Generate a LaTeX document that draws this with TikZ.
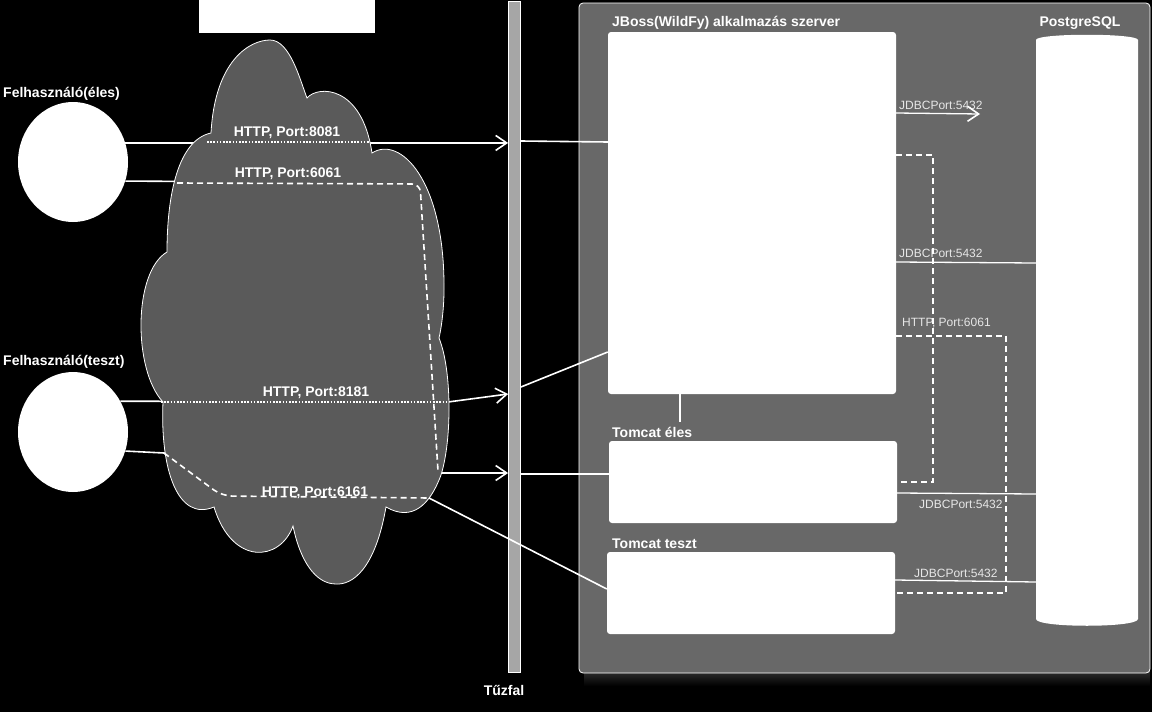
\documentclass[tikz,border=0pt]{standalone}
\usepackage{fontspec}
\setmainfont{Liberation Sans}
\usepackage{tikz}
\usetikzlibrary{arrows.meta, calc, positioning, shapes.geometric}
\definecolor{felho}{HTML}{5A5A5A}
\definecolor{szerver}{HTML}{686868}
\definecolor{fal}{HTML}{A6A6A6}
\definecolor{halvany}{HTML}{E6E6E6}

\begin{document}
\begin{tikzpicture}[x=1pt, y=-1pt,
    felirat/.style={text=white, font=\bfseries\fontsize{14}{16}\selectfont, inner sep=0pt},
    port/.style={text=halvany, font=\fontsize{12}{14}\selectfont, inner sep=0pt},
    doboz/.style={fill=white, rounded corners=3pt, inner sep=0pt},
    felhasznalo/.style={ellipse, fill=white, minimum width=110pt, minimum height=120pt, inner sep=0pt},
    vonal/.style={draw=white, line width=1.6pt},
    vekony/.style={draw=white, line width=1.3pt},
    szaggatott/.style={draw=white, line width=1.6pt, dash pattern=on 6pt off 4pt},
    pontozott/.style={draw=white, line width=1.6pt, dash pattern=on 1.6pt off 1.6pt},
    nyil/.style={-{Straight Barb[length=11pt, width=15pt, line width=1.6pt]}}
  ]
      % Háttér
      \fill[black] (0,0) rectangle (1152,712);
      \useasboundingbox (0,0) rectangle (1152,712);

      % Szerver
      \shade[top color=black!82, bottom color=black] (584,671) rectangle (1150,686);
      \node[fill=szerver, draw=white, line width=0.8pt, rounded corners=4pt,
        minimum width=571pt, minimum height=670pt, inner sep=0pt] (szerver) at (864.5,338) {};
      \node[doboz, minimum width=288pt, minimum height=362pt] (jboss) at (752,213) {};
      \node[doboz, minimum width=288pt, minimum height=82pt] (teles) at (753,482) {};
      \node[doboz, minimum width=288pt, minimum height=82pt] (tteszt) at (751,593) {};
      \node[minimum width=102pt, minimum height=584pt, inner sep=0pt] (db) at (1087,329) {};
      \fill[white] (1036,40) .. controls (1036,33) and (1138,33) .. (1138,40)
        -- (1138,619) .. controls (1138,628) and (1036,628) .. (1036,619) -- cycle;

      \node[felirat, anchor=base west] (ljboss) at (612,27) {JBoss(WildFy) alkalmazás szerver};
      \node[felirat, anchor=base] (ldb) at (1080,27) {PostgreSQL};
      \node[felirat, anchor=base west] (lteles) at (612,437) {Tomcat éles};
      \node[felirat, anchor=base west] (ltteszt) at (612,548) {Tomcat teszt};

      % Tűzfal
      \node[fill=fal, draw=white, line width=0.8pt, minimum width=12pt,
        minimum height=671pt, inner sep=0pt] (tuzfal) at (514.5,336.5) {};
      \node[felirat, anchor=base] (ltuzfal) at (504,695) {Tűzfal};

      % Felhasználók
      \node[fill=white, minimum width=176pt, minimum height=33pt, inner sep=0pt] (cim) at (287,16.5) {};
      \node[felhasznalo] (ueles) at (73,162) {};
      \node[felhasznalo] (uteszt) at (73,432) {};
      \node[felirat, anchor=base west] (lueles) at (3,97) {Felhasználó(éles)};
      \node[felirat, anchor=base west] (luteszt) at (3,365) {Felhasználó(teszt)};

      % Kapcsolatok (a felhő alatt)
      \draw[vonal, nyil] (ueles.20) -- (ueles.20 -| tuzfal.west);
      \draw[vonal, nyil] (ueles.-20) -- (420,183) -- (438,473) -- (tuzfal.west |- 0,473);
      \draw[vonal, nyil] (uteszt.33) -- (448,402) -- (tuzfal.west |- 0,394);
      \draw[vonal] (uteszt.-20) -- (164,453) -- (218,493) -- (429,498) -- (tteszt.west |- 0,589);
      \draw[vonal] (tuzfal.east |- 0,141) -- (jboss.west |- 0,142);
      \draw[vonal] (tuzfal.east |- 0,387) -- (jboss.west |- 0,352);
      \draw[vonal] (tuzfal.east |- 0,474) -- (teles.west |- 0,474);

      % Felhő
      \draw[fill=felho, draw=white, line width=0.8pt]
        (167,252) .. controls (167,195) and (178,140) .. (211,133)
        .. controls (215,60) and (250,40) .. (270,40)
        .. controls (290,40) and (300,80) .. (307,98)
        .. controls (318,85) and (362,85) .. (372,153)
        .. controls (400,135) and (445,180) .. (444,290)
        .. controls (444,310) and (441,330) .. (439,338)
        .. controls (452,370) and (452,440) .. (441,475)
        .. controls (430,505) and (412,522) .. (386,507)
        .. controls (375,570) and (352,585) .. (336,584)
        .. controls (315,584) and (300,560) .. (293,526)
        .. controls (280,562) and (232,566) .. (214,507)
        .. controls (178,522) and (160,470) .. (163,402)
        .. controls (133,370) and (133,272) .. (167,252) -- cycle;

      % Felhőn belüli szakaszok
      \draw[pontozott] (207,142) -- (370,142);
      \draw[szaggatott, rounded corners=8pt] (177,183) -- (420,184) -- (438,471);
      \draw[pontozott] (161,402) -- (447,402);
      \draw[szaggatott, rounded corners=10pt] (164,453) -- (222,496) -- (429,498);

      \node[felirat, anchor=base] (l8081) at (287,136) {HTTP, Port:8081};
      \node[felirat, anchor=base] (l6061) at (288,177) {HTTP, Port:6061};
      \node[felirat, anchor=base] (l8181) at (316,396) {HTTP, Port:8181};
      \node[felirat, anchor=base] (l6161) at (315,496) {HTTP, Port:6161};

      % Adatbázis és belső kapcsolatok
      \node[port, anchor=base west] (jdbc1) at (899,109) {JDBCPort:5432};
      \node[port, anchor=base west] (jdbc2) at (899,257) {JDBCPort:5432};
      \node[port, anchor=base west] (http6061) at (902,326) {HTTP, Port:6061};
      \node[port, anchor=base west] (jdbc3) at (919,508) {JDBCPort:5432};
      \node[port, anchor=base west] (jdbc4) at (914,577) {JDBCPort:5432};

      \coordinate (jdbcveg) at (980,114);
      \coordinate (csatlakozas) at (680,422);
      \draw[vekony, nyil] (jboss.east |- 0,113) -- (jdbcveg);
      \draw[vekony] (jboss.south -| csatlakozas) -- (csatlakozas);
      \draw[szaggatott, line width=1.3pt] (jboss.east |- 0,155) -- (933,155) -- (933,482) -- (teles.east |- 0,482);
      \draw[vekony] (jboss.east |- 0,262) -- (db.west |- 0,263);
      \draw[szaggatott, line width=1.3pt] (jboss.east |- 0,336) -- (1006,336) -- (1006,593) -- (tteszt.east |- 0,593);
      \draw[vekony] (teles.east |- 0,493) -- (db.west |- 0,494);
      \draw[vekony] (tteszt.east |- 0,580) -- (db.west |- 0,582);
    \end{tikzpicture}
\end{document}
